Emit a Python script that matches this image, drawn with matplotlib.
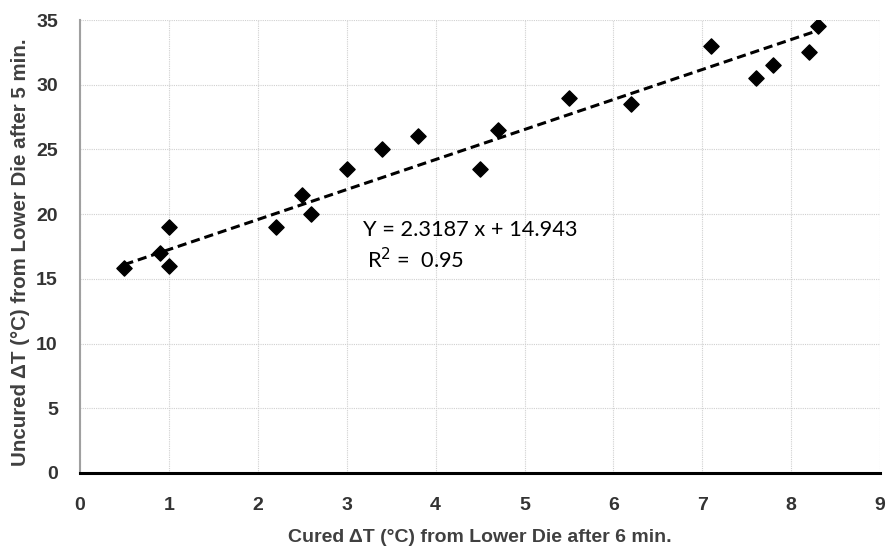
import matplotlib
matplotlib.use("Agg")
import matplotlib.pyplot as plt
import numpy as np

cured = [0.5, 0.9, 1.0, 1.0, 2.2, 2.5, 2.6, 3.0, 3.4, 3.8, 4.5, 4.7, 5.5, 6.2, 7.1, 7.6, 7.8, 8.2, 8.3]
uncured = [15.8, 17.0, 19.0, 16.0, 19.0, 21.5, 20.0, 23.5, 25.0, 26.0, 23.5, 26.5, 29.0, 28.5, 33.0, 30.5, 31.5, 32.5, 34.5]
slope = 2.3187
intercept = 14.943
xticks = list(range(0, 10))
yticks = list(range(0, 40, 5))

plt.rcParams['font.family'] = ['Lato', 'DejaVu Sans']
bold_fam = ['Liberation Sans', 'DejaVu Sans']

fig = plt.figure(figsize=(8.89, 5.48), dpi=100)
ax = fig.add_axes([0.09, 0.137, 0.9, 0.8265])

xs = np.array([min(cured), max(cured)])
ax.plot(xs, slope * xs + intercept, color='black', linestyle=(0, (3, 1.6)), linewidth=2.2, zorder=2)
ax.scatter(cured, uncured, marker='D', s=60, color='black', zorder=3)

ax.set_xlim(0, 9)
ax.set_ylim(0, 35)
ax.set_xticks(xticks)
ax.set_yticks(yticks)
ax.tick_params(axis='x', length=0, pad=17)
ax.tick_params(axis='y', length=0, pad=16)
for lbl in ax.get_xticklabels() + ax.get_yticklabels():
    lbl.set_fontfamily(bold_fam)
    lbl.set_fontweight('bold')
    lbl.set_fontsize(14)
    lbl.set_color('#333333')

ax.grid(True, color='#d0d0d0', linestyle=(0, (1, 1)), linewidth=0.8)
ax.set_axisbelow(True)
for s in ['top', 'right']:
    ax.spines[s].set_visible(False)
ax.spines['left'].set_color('#a0a0a0')
ax.spines['left'].set_linewidth(1.5)
ax.spines['bottom'].set_color('black')
ax.spines['bottom'].set_linewidth(2.2)

ax.set_xlabel('Cured ΔT (°C) from Lower Die after 6 min.', fontsize=14, fontweight='bold', family=bold_fam, color='#404040', labelpad=11)
ax.set_ylabel('Uncured ΔT (°C) from Lower Die after 5 min.', fontsize=14.8, fontweight='bold', family=bold_fam, color='#404040')
ax.yaxis.set_label_coords(-0.063, 0.488)

ax.text(3.18, 18.8, 'Y = 2.3187 x + 14.943', fontsize=15.7, color='black', va='center', ha='left')
ax.text(3.23, 16.5, 'R$^2$ =  0.95', fontsize=15.7, color='black', va='center', ha='left')

fig.savefig('out.png', dpi=100)
